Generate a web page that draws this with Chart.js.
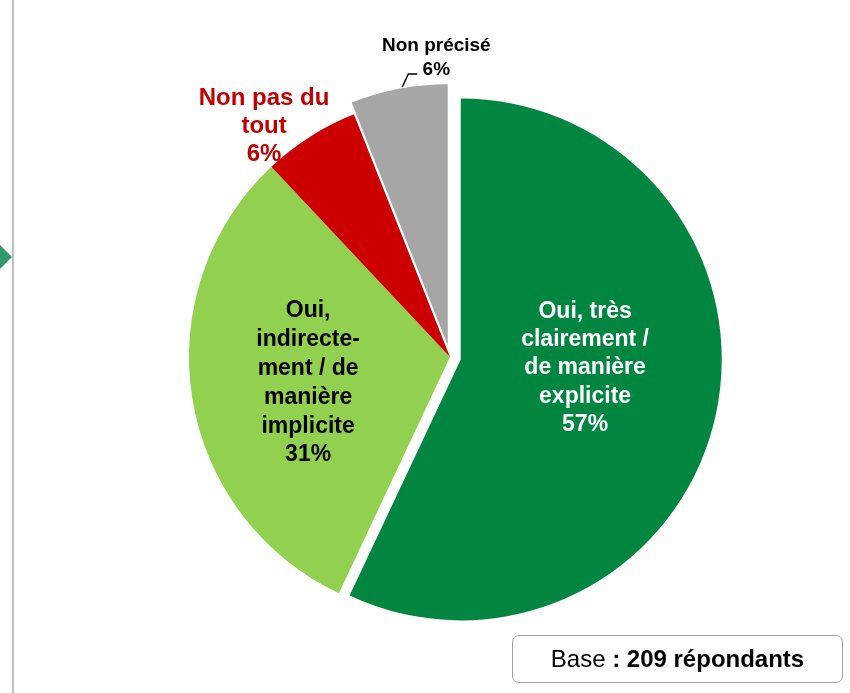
<!DOCTYPE html>
<html>
<head>
<meta charset="utf-8">
<script src="https://cdn.jsdelivr.net/npm/chart.js@4/dist/chart.umd.min.js"></script>
<style>
    body { margin: 0; background: #fff; }
    #wrap { position: relative; width: 850px; height: 693px; overflow: hidden; }
    #base {
        position: absolute; left: 512px; top: 635px; width: 331px; height: 48px;
        box-sizing: border-box; border: 1.5px solid #a0a0a0; border-radius: 7px;
        display: flex; align-items: center; justify-content: center;
        font-family: 'Liberation Sans', Arial, sans-serif; font-size: 24px; color: #000;
    }
</style>
</head>
<body>
<div id="wrap">
    <canvas id="chart" width="850" height="693"></canvas>
    <div id="base">Base&nbsp;<b>: 209 répondants</b></div>
</div>
<script>
const categories = [
    'Oui, très clairement / de manière explicite',
    'Oui, indirectement / de manière implicite',
    'Non pas du tout',
    'Non précisé'
];
const values = [57, 31, 6, 6];
const percentLabels = ['57%', '31%', '6%', '6%'];

const colors = ['#008641', '#92d050', '#cc0000', '#a6a6a6'];
const explode = [11, 0, 0, 12]; // pulled-out slices, px

// label text lines + placement relative to the arc's tooltip position
const labelStyle = [
    { lines: ['Oui, très', 'clairement /', 'de manière', 'explicite'], color: '#fff', size: 23, lh: 28.3, dx: -3, dy: -70 },
    { lines: ['Oui,', 'indirecte-', 'ment / de', 'manière', 'implicite'], color: '#000', size: 23, lh: 28.8, dx: -13, dy: -60 },
    { lines: ['Non pas du', 'tout'], color: '#c00000', size: 24, lh: 28, dx: -116, dy: -142 },
    { lines: ['Non précisé'], color: '#000', size: 19, lh: 24, dx: 13, dy: -166, leader: [[-21, -130], [-15, -143], [-6, -143]] }
];

const explodePlugin = {
    id: 'explode',
    afterDatasetsUpdate(chart) {
        chart.getDatasetMeta(0).data.forEach((arc, i) => {
            const e = explode[i] || 0;
            if (!e) return;
            const mid = (arc.startAngle + arc.endAngle) / 2;
            arc.x += Math.cos(mid) * e;
            arc.y += Math.sin(mid) * e;
        });
    }
};

const decorPlugin = {
    id: 'decor',
    beforeDraw(chart) {
        const ctx = chart.ctx;
        ctx.save();
        // frame line on the left
        ctx.fillStyle = '#c0c0c0';
        ctx.fillRect(12, 0, 2, chart.height);
        // green arrow tip
        ctx.fillStyle = '#2f9a68';
        ctx.beginPath();
        ctx.moveTo(0, 245);
        ctx.lineTo(12, 257);
        ctx.lineTo(0, 269);
        ctx.closePath();
        ctx.fill();
        ctx.restore();
    }
};

const labelPlugin = {
    id: 'sliceLabels',
    afterDatasetsDraw(chart) {
        const ctx = chart.ctx;
        ctx.save();
        ctx.textAlign = 'center';
        ctx.textBaseline = 'alphabetic';
        chart.getDatasetMeta(0).data.forEach((arc, i) => {
            const s = labelStyle[i];
            const p = arc.tooltipPosition();
            const x = p.x + s.dx;
            const y0 = p.y + s.dy;
            ctx.fillStyle = s.color;
            ctx.font = 'bold ' + s.size + 'px "Liberation Sans", Arial, sans-serif';
            const lines = s.lines.concat([percentLabels[i]]);
            lines.forEach((t, k) => ctx.fillText(t, x, y0 + k * s.lh));
            if (s.leader) {
                ctx.strokeStyle = '#000';
                ctx.lineWidth = 1.5;
                ctx.beginPath();
                s.leader.forEach(([lx, ly], k) => {
                    if (k === 0) ctx.moveTo(p.x + lx, p.y + ly);
                    else ctx.lineTo(p.x + lx, p.y + ly);
                });
                ctx.stroke();
            }
        });
        ctx.restore();
    }
};

new Chart(document.getElementById('chart'), {
    type: 'pie',
    data: {
        labels: categories,
        datasets: [{
            data: values,
            backgroundColor: colors,
            borderWidth: 0,
            offset: 0,
            hoverOffset: 0
        }]
    },
    options: {
        responsive: false,
        animation: false,
        layout: { padding: { top: 96, bottom: 75, left: 189, right: 139 } },
        plugins: {
            legend: { display: false },
            tooltip: { enabled: false },
            title: { display: false }
        }
    },
    plugins: [explodePlugin, decorPlugin, labelPlugin]
});
</script>
</body>
</html>
